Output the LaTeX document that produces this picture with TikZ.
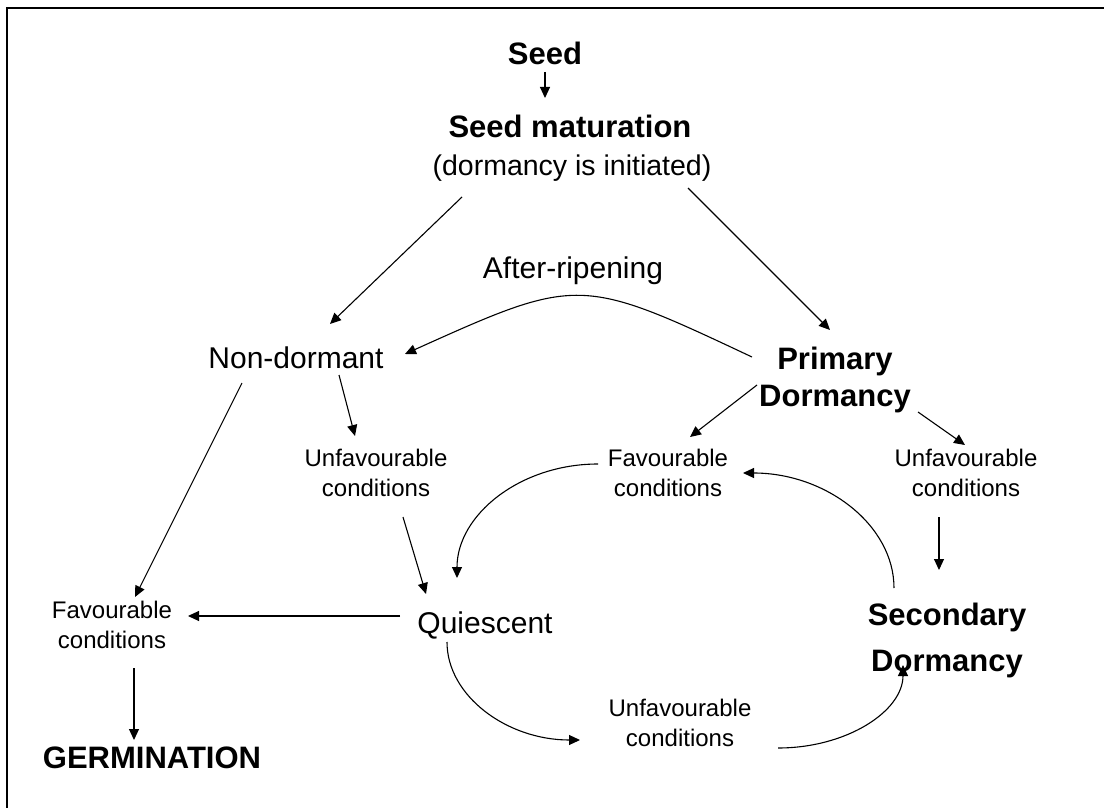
\documentclass[tikz,border=0pt]{standalone}
\usepackage{fontspec}
\setmainfont{Liberation Sans}
\usetikzlibrary{arrows.meta}
\begin{document}
\begin{tikzpicture}[x=1pt,y=-1pt,
  big/.style={font=\fontsize{31}{37}\selectfont\bfseries, inner sep=0pt},
  reg/.style={font=\fontsize{30}{36}\selectfont, inner sep=0pt},
  small/.style={font=\fontsize{24}{30}\selectfont, inner sep=0pt, align=center},
  arr/.style={-{Triangle[length=11pt,width=10pt]}, line width=1.1pt},
  frame/.style={line width=2.2pt}]
\useasboundingbox (0,0) rectangle (1104,808);
\fill[white] (0,0) rectangle (1104,808);
\draw[frame] (1104,8) -- (7,8) -- (7,808);

\node[big, anchor=base] (seed) at (545,65) {Seed};
\node[big, anchor=base] (mat) at (570,137) {Seed maturation};
\node[font=\fontsize{28.5}{34}\selectfont, inner sep=0pt, anchor=base] (init) at (572,175) {(dormancy is initiated)};
\node[reg, anchor=base] (after) at (573,278) {After-ripening};
\node[reg, anchor=base] (nondorm) at (296,368) {Non-dormant};
\node[big, align=center] (prim) at (835,380) {Primary\\Dormancy};
\node[small] (favU) at (668,473) {Favourable\\conditions};
\node[small] (unfR) at (966,473) {Unfavourable\\conditions};
\node[small] (unfL) at (376,473) {Unfavourable\\conditions};
\node[reg, anchor=base] (quies) at (485,633) {Quiescent};
\node[small] (favL) at (112,625) {Favourable\\conditions};
\node[big, align=center, font=\fontsize{31}{46}\selectfont\bfseries] (sec) at (947,640) {Secondary\\Dormancy};
\node[small] (unfB) at (680,723) {Unfavourable\\conditions};
\node[big, anchor=base] (germ) at (152,768) {GERMINATION};

% straight connectors
\draw[arr] ([shift={(0,7)}]seed.base) -- ([shift={(-25,-39)}]mat.base);
\draw[arr] ([shift={(-110,22)}]init.base) -- ([shift={(34,-44)}]nondorm.base);
\draw[arr] ([shift={(116,13)}]init.base) -- ([shift={(-5,-50)}]prim.center);
\draw[arr] ([shift={(-78,5)}]prim.center) -- ([shift={(22,-36)}]favU.center);
\draw[arr] ([shift={(83,32)}]prim.center) -- ([shift={(-1,-28)}]unfR.center);
\draw[arr] ([shift={(-27,44)}]unfR.center) -- ([shift={(-8,-70)}]sec.center);
\draw[arr] ([shift={(-54,15)}]nondorm.base) -- ([shift={(23,-28)}]favL.center);
\draw[arr] ([shift={(43,7)}]nondorm.base) -- ([shift={(-21,-37)}]unfL.center);
\draw[arr] ([shift={(27,44)}]unfL.center) -- ([shift={(-59,-39)}]quies.base);
\draw[arr] ([shift={(-85,-17)}]quies.base) -- ([shift={(76,-9)}]favL.center);
\draw[arr] ([shift={(22,43)}]favL.center) -- ([shift={(-18,-28)}]germ.base);

% curved connectors
\draw[arr] ([shift={(-83,-23)}]prim.center) .. controls (580,276) and (578,276) .. ([shift={(109,-14)}]nondorm.base);
\draw[arr] ([shift={(-53,-52)}]sec.center) .. controls (894,525) and (826,473) .. ([shift={(75,0)}]favU.center);
\draw[arr] ([shift={(-70,-9)}]favU.center) .. controls (520,464) and (457,515) .. ([shift={(-28,-55)}]quies.base);
\draw[arr] ([shift={(-38,9)}]quies.base) .. controls (447,696) and (507,740) .. ([shift={(-100,17)}]unfB.center);
\draw[arr] ([shift={(98,25)}]unfB.center) .. controls (847,748) and (903,711) .. ([shift={(-44,25)}]sec.center);
\end{tikzpicture}
\end{document}
